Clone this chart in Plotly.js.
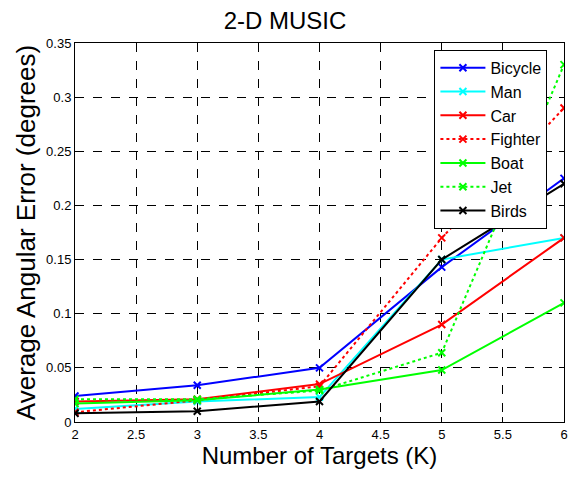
<!DOCTYPE html>
<html><head><meta charset="utf-8">
<script src="https://cdn.plot.ly/plotly-3.0.1.min.js"></script>
<style>body{margin:0;background:#fff}#c{width:570px;height:478px}</style>
</head><body><div id="c"></div>
<script>
const targets = [2, 3, 4, 5, 6];
const bicycle = [0.024, 0.034, 0.050, 0.143, 0.225];
const man     = [0.012, 0.019, 0.023, 0.150, 0.170];
const car     = [0.019, 0.021, 0.035, 0.090, 0.170];
const fighter = [0.009, 0.020, 0.033, 0.170, 0.290];
const boat    = [0.017, 0.020, 0.030, 0.048, 0.110];
const jet     = [0.021, 0.021, 0.029, 0.064, 0.330];
const birds   = [0.008, 0.010, 0.019, 0.150, 0.220];
const names = ['Bicycle','Man','Car','Fighter','Boat','Jet','Birds'];
const series = [bicycle, man, car, fighter, boat, jet, birds];
const colors = ['#0000ff','#00ffff','#ff0000','#ff0000','#00ff00','#00ff00','#000000'];
const dashes = ['solid','solid','solid','dot','solid','dot','solid'];
const data = series.map((s,i)=>({
  x: targets, y: s, name: names[i], type:'scatter', mode:'lines+markers',
  line:{color:colors[i], width:2, dash:dashes[i]},
  marker:{symbol:'x-thin', size:7, line:{color:colors[i], width:2}, color:colors[i]}
}));
const layout = {
  width:570, height:478,
  margin:{l:75, r:6, t:43, b:56},
  paper_bgcolor:'#fff', plot_bgcolor:'#fff',
  font:{family:'Liberation Sans, Arial, sans-serif', color:'#000'},
  title:{text:'2-D MUSIC', font:{size:24}, x:0.5, xanchor:'center', y:0.975, yanchor:'top'},
  xaxis:{range:[2,6], dtick:0.5, tick0:2, showgrid:true, gridcolor:'#000', griddash:'dash', gridwidth:1,
    showline:true, linecolor:'#000', linewidth:1, mirror:'ticks', ticks:'inside', ticklen:5, tickcolor:'#000',
    zeroline:false, tickfont:{size:13},
    title:{text:'Number of Targets (K)', font:{size:24}, standoff:2}},
  yaxis:{range:[0,0.35], dtick:0.05, tick0:0, showgrid:true, gridcolor:'#000', griddash:'dash', gridwidth:1,
    showline:true, linecolor:'#000', linewidth:1, mirror:'ticks', ticks:'inside', ticklen:5, tickcolor:'#000',
    zeroline:false, tickfont:{size:13},
    title:{text:'Average Angular Error (degrees)', font:{size:26}, standoff:2}},
  legend:{x:0.735, y:0.982, xanchor:'left', yanchor:'top', bgcolor:'#fff', bordercolor:'#000', borderwidth:1,
    font:{size:16}, tracegroupgap:0, itemwidth:45},
  showlegend:true
};
Plotly.newPlot('c', data, layout, {displayModeBar:false, staticPlot:true});
</script></body></html>
